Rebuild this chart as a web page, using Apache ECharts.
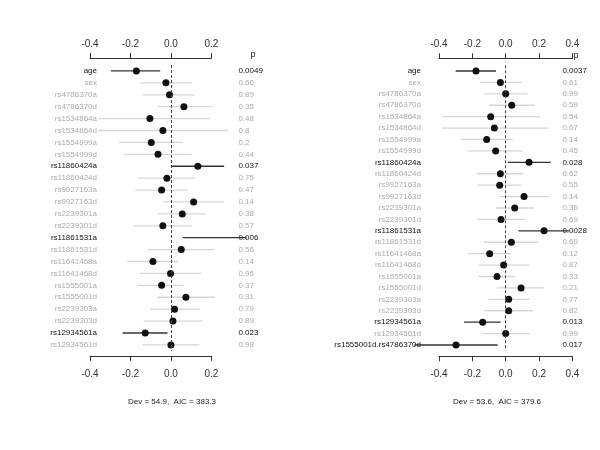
<!DOCTYPE html>
<html>
<head>
<meta charset="utf-8">
<script src="https://cdn.jsdelivr.net/npm/echarts@6/dist/echarts.min.js"></script>
<style>
  html, body { margin: 0; padding: 0; background: #fff; }
  #chart { width: 600px; height: 450px; }
</style>
</head>
<body>
<div id="chart"></div>
<script>
// model 1 (left panel)
var labelsA = ['age', 'sex', 'rs4786370a', 'rs4786370d', 'rs1534864a', 'rs1534864d', 'rs1554999a', 'rs1554999d',
  'rs11860424a', 'rs11860424d', 'rs9927163a', 'rs9927163d', 'rs2239301a', 'rs2239301d', 'rs11861531a', 'rs11861531d',
  'rs11641468a', 'rs11641468d', 'rs1555001a', 'rs1555001d', 'rs2239303a', 'rs2239303d', 'rs12934561a', 'rs12934561d'];
var estA = [-0.171, -0.025, -0.007, 0.064, -0.104, -0.040, -0.097, -0.064, 0.133, -0.020, -0.046, 0.112,
  0.056, -0.040, 0.212, 0.051, -0.089, -0.002, -0.046, 0.074, 0.018, 0.010, -0.127, 0.0];
var loA = [-0.296, -0.152, -0.138, -0.069, -0.36, -0.36, -0.257, -0.234, 0.002, -0.163, -0.176, -0.040,
  -0.064, -0.185, 0.059, -0.115, -0.217, -0.155, -0.163, -0.068, -0.102, -0.135, -0.239, -0.142];
var hiA = [-0.053, 0.104, 0.12, 0.202, 0.194, 0.281, 0.059, 0.104, 0.263, 0.12, 0.084, 0.263,
  0.169, 0.104, 0.375, 0.214, 0.035, 0.150, 0.064, 0.215, 0.141, 0.158, -0.017, 0.141];
var pA = ['0.0049', '0.66', '0.89', '0.35', '0.48', '0.8', '0.2', '0.44', '0.037', '0.75', '0.47', '0.14',
  '0.38', '0.57', '0.006', '0.56', '0.14', '0.96', '0.37', '0.31', '0.79', '0.89', '0.023', '0.98'];

// model 2 (right panel), one extra interaction term
var labelsB = labelsA.concat(['rs1555001d.rs4786370d']);
var estB = [-0.178, -0.032, 0, 0.036, -0.09, -0.068, -0.114, -0.06, 0.14, -0.032, -0.036, 0.11,
  0.054, -0.028, 0.23, 0.034, -0.096, -0.012, -0.052, 0.092, 0.018, 0.018, -0.138, 0, -0.298];
var loB = [-0.30, -0.154, -0.128, -0.102, -0.38, -0.38, -0.27, -0.23, 0.012, -0.174, -0.168, -0.038,
  -0.06, -0.174, 0.076, -0.13, -0.226, -0.162, -0.162, -0.054, -0.102, -0.128, -0.25, -0.138, -0.548];
var hiB = [-0.058, 0.096, 0.13, 0.174, 0.206, 0.252, 0.042, 0.104, 0.27, 0.106, 0.092, 0.26,
  0.168, 0.116, 0.38, 0.198, 0.032, 0.142, 0.058, 0.23, 0.142, 0.162, -0.03, 0.142, -0.048];
var pB = ['0.0037', '0.61', '0.99', '0.59', '0.54', '0.67', '0.14', '0.45', '0.028', '0.62', '0.55', '0.14',
  '0.36', '0.69', '0.0028', '0.69', '0.12', '0.87', '0.33', '0.21', '0.77', '0.82', '0.013', '0.99', '0.017'];

var xTicksA = [-0.4, 0.2];   // min / max of the left axis
var xTicksB = [-0.4, 0.4];
var fitA = 'Dev = 54.9,  AIC = 383.3';
var fitB = 'Dev = 53.6,  AIC = 379.6';

var DARK = '#111';
var GREY = '#ababab';
var font = 'Liberation Sans, Arial, sans-serif';

var myChart = echarts.init(document.getElementById('chart'));

var option = { animation: false, grid: [], xAxis: [], yAxis: [], series: [], graphic: [] };

/**
 * k: panel index, cfg: grid placement / label margins
 */
function addPanel(k, labels, est, lo, hi, p, ticks, cfg) {
  var sig = p.map(function (v) { return parseFloat(v) < 0.05; });
  var colorOf = function (v, i) { return sig[i] ? DARK : GREY; };

  option.grid.push({ left: cfg.left, width: cfg.width, top: cfg.top, height: cfg.rowH * labels.length });

  var xBase = {
    gridIndex: k, type: 'value', min: ticks[0], max: ticks[1], interval: 0.2,
    splitLine: { show: false },
    axisLine: { show: true, lineStyle: { color: '#333', width: 1 } },
    axisTick: { show: true, length: 5, lineStyle: { color: '#333' } },
    axisLabel: { color: '#333', fontSize: 10, fontFamily: font, formatter: function (v) { return v.toFixed(1); } }
  };
  option.xAxis.push(Object.assign({}, xBase, { position: 'bottom', offset: cfg.botOff,
    axisLabel: Object.assign({}, xBase.axisLabel, { margin: 13 }) }));
  option.xAxis.push(Object.assign({}, xBase, { position: 'top', offset: cfg.topOff,
    axisLabel: Object.assign({}, xBase.axisLabel, { margin: 9 }) }));

  var yBase = {
    gridIndex: k, type: 'category', data: labels, inverse: true,
    axisLine: { show: false }, axisTick: { show: false }, splitLine: { show: false }
  };
  option.yAxis.push(Object.assign({}, yBase, { position: 'left',
    axisLabel: { interval: 0, fontSize: 8, fontFamily: font, margin: cfg.labMargin, color: colorOf } }));
  option.yAxis.push(Object.assign({}, yBase, { position: 'right',
    axisLabel: { interval: 0, fontSize: 8, fontFamily: font, margin: cfg.pMargin, align: 'left', color: colorOf,
      formatter: function (v, i) { return p[i]; } } }));

  // confidence intervals
  option.series.push({
    type: 'custom', xAxisIndex: 2 * k, yAxisIndex: 2 * k, clip: false,
    encode: { x: [0, 1], y: 2 },
    data: labels.map(function (name, i) { return [lo[i], hi[i], i]; }),
    renderItem: function (params, api) {
      var a = api.coord([api.value(0), api.value(2)]);
      var b = api.coord([api.value(1), api.value(2)]);
      var i = params.dataIndex;
      return {
        type: 'line', shape: { x1: a[0], y1: a[1], x2: b[0], y2: b[1] },
        style: { stroke: sig[i] ? '#333' : '#d6d6d6', lineWidth: 1.3 }
      };
    },
    z: 2
  });

  // point estimates + zero line
  option.series.push({
    type: 'scatter', xAxisIndex: 2 * k, yAxisIndex: 2 * k,
    symbolSize: 7, itemStyle: { color: '#111', opacity: 1 },
    data: labels.map(function (name, i) { return [est[i], i]; }),
    markLine: {
      silent: true, symbol: 'none', label: { show: false },
      lineStyle: { color: '#444', type: [3, 2], width: 1 },
      data: [{ xAxis: 0 }]
    },
    z: 3
  });

  option.graphic.push({
    type: 'text', x: cfg.pX, y: cfg.pY,
    style: { text: 'p', fill: '#222', font: '9px ' + font, textAlign: 'center', textVerticalAlign: 'middle' }
  });
}

addPanel(0, labelsA, estA, loA, hiA, pA, xTicksA,
  { left: 90, width: 121.4, top: 65, rowH: 11.91, topOff: 7, botOff: 5, labMargin: -7, pMargin: 27, pX: 253, pY: 55 });
addPanel(1, labelsB, estB, loB, hiB, pB, xTicksB,
  { left: 439, width: 133.4, top: 65.3, rowH: 11.417, topOff: 7, botOff: 5.5, labMargin: 18, pMargin: -10, pX: 576, pY: 56 });

option.title = [
  { text: fitA, left: 167, top: 393, textAlign: 'center', textStyle: { fontSize: 8, fontWeight: 'normal', color: '#222', fontFamily: font } },
  { text: fitB, left: 492, top: 393, textAlign: 'center', textStyle: { fontSize: 8, fontWeight: 'normal', color: '#222', fontFamily: font } }
];

myChart.setOption(option);
</script>
</body>
</html>
